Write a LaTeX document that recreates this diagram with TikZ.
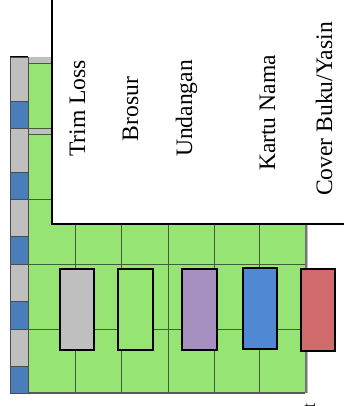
\documentclass[tikz,border=0pt]{standalone}
\usepackage{fontspec}
\setmainfont{Liberation Serif}
\definecolor{cgreen}{HTML}{96E473}
\definecolor{cgray}{HTML}{BFBFBF}
\definecolor{sblue}{HTML}{4A7EBB}
\definecolor{cpurple}{HTML}{A690C0}
\definecolor{cblue}{HTML}{4F89D4}
\definecolor{cred}{HTML}{D16B6B}
\definecolor{cline}{HTML}{3F5F35}
\begin{document}
\begin{tikzpicture}[x=1pt,y=-1pt,
  gridline/.style={draw=cline, line width=0.9pt},
  cellbox/.style={draw=black!70, line width=0.7pt},
  piece/.style={draw=black, line width=1.3pt},
  lbl/.style={rotate=90, anchor=base, inner sep=0pt, font=\fontsize{23.6}{28}\selectfont}]
\useasboundingbox (0,0) rectangle (344,406);
% green sheet
\fill[cgreen] (28,57) rectangle (305,393);
\fill[black!55] (305,57) rectangle (306.5,393);
\fill[cgray] (306.5,57) rectangle (308,393);
\fill[cgray] (28,57) rectangle (52,63);
\fill[cgray] (28,128) rectangle (52,134);
\draw[gridline] (28,63) -- (52,63) (28,128) -- (52,128) (28,134) -- (52,134);
\foreach \yy in {199,264,329}
  \draw[gridline] (28,\yy) -- (305,\yy);
\foreach \xx in {75,121,168,214,259}
  \draw[gridline] (\xx,57) -- (\xx,393);
\draw[black!65, line width=1.2pt] (28,393) -- (305,393);
% left strip
\foreach \a/\b/\c in {57/101/cgray,101/128/sblue,128/172/cgray,172/199/sblue,199/236/cgray,236/264/sblue,264/301/cgray,301/329/sblue,329/366/cgray,366/393/sblue}
  \filldraw[fill=\c, cellbox] (10,\a) rectangle (28,\b);
\draw[black, line width=1pt] (10,57) -- (28,57);
% white label box
\filldraw[fill=white, draw=black, line width=1.3pt] (52,-5) rectangle (350,224);
% pieces
\filldraw[piece, fill=cgray] (60,269) rectangle (94,350);
\filldraw[piece, fill=cgreen] (118,269) rectangle (153,350);
\filldraw[piece, fill=cpurple] (182,269) rectangle (217,350);
\filldraw[piece, fill=cblue] (243,268) rectangle (277,349);
\filldraw[piece, fill=cred] (301,269) rectangle (335,351);
% labels
\node[lbl] (t1) at (85,108.5) {Trim Loss};
\node[lbl] (t2) at (138,109) {Brosur};
\node[lbl] (t3) at (192,108.5) {Undangan};
\node[lbl] (t4) at (275,113) {Kartu Nama};
\node[lbl] (t5) at (332,109) {Cover Buku/Yasin};
\node[rotate=90, anchor=east, inner sep=0pt, font=\fontsize{18}{20}\selectfont] (t6) at (310,403) {t};
\end{tikzpicture}
\end{document}
